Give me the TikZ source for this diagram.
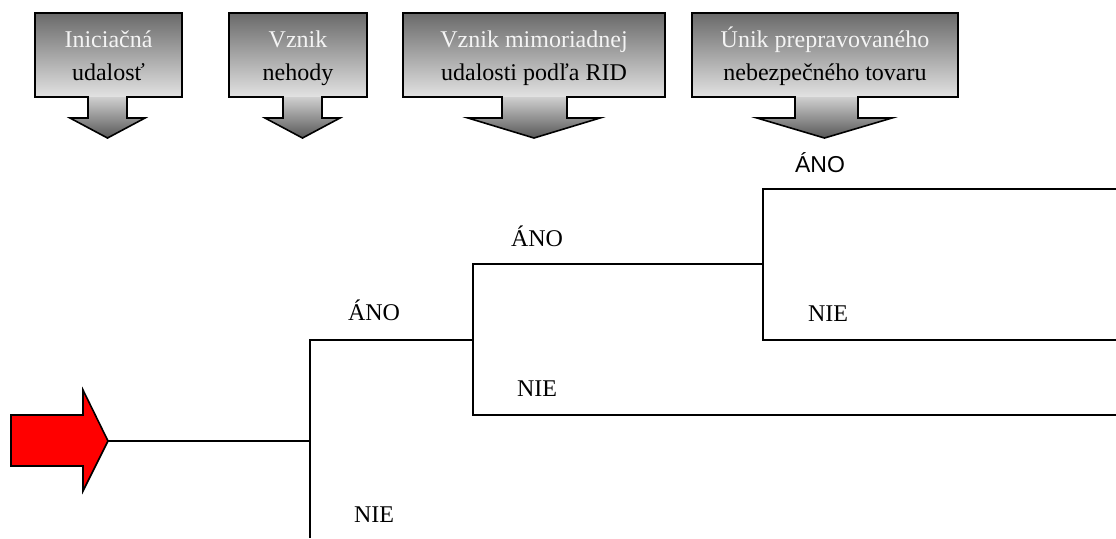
\documentclass[tikz,border=0pt]{standalone}
\usepackage{fontspec}
\setmainfont{Liberation Serif}
\newfontfamily\labelsans{Liberation Sans}

\definecolor{boxtop}{HTML}{6A6A6A}
\definecolor{boxbot}{HTML}{E2E2E2}
\definecolor{stemtop}{HTML}{CFCFCF}
\definecolor{tipcol}{HTML}{575757}
\definecolor{headlight}{HTML}{F4F4F4}

\tikzset{
  outline/.style={draw=black, line width=0.8pt, line join=miter},
  branch/.style={draw=black, line width=0.85pt},
  headtext/.style={anchor=base, inner sep=0pt, font=\fontsize{12}{14}\selectfont},
  answer/.style={anchor=base, inner sep=0pt, font=\fontsize{12}{14}\selectfont},
  answersans/.style={anchor=base, inner sep=0pt, font=\labelsans\fontsize{11.5}{13}\selectfont},
}

% #1 name, #2/#3 box left/right, #4/#5 stem left/right, #6/#7 head left/right,
% #8 first line, #9 second line
\newcommand\stagebox[9]{%
  \fill[top color=boxtop, bottom color=boxbot] (#2,13) rectangle (#3,97);
  \fill[top color=stemtop, bottom color=tipcol]
    (#4,97) -- (#5,97) -- (#5,118) -- (#7,118) -- ({(#6+#7)/2},138)
    -- (#6,118) -- (#4,118) -- cycle;
  \draw[outline] (#2,13) -- (#3,13) -- (#3,97) -- (#5,97) -- (#5,118)
    -- (#7,118) -- ({(#6+#7)/2},138) -- (#6,118) -- (#4,118) -- (#4,97)
    -- (#2,97) -- cycle;
  \node[headtext, text=headlight] (#1a) at ({(#2+#3)/2},47) {#8};
  \node[headtext] (#1b) at ({(#2+#3)/2},80) {#9};
}

\begin{document}
\begin{tikzpicture}[x=0.5pt, y=-0.5pt]
\useasboundingbox (0,0) rectangle (1116,538);

% column headers
\stagebox{init}{35}{182}{88}{127}{70}{145}{Iniciačná}{udalosť}
\stagebox{acc}{229}{367}{283}{322}{265}{340}{Vznik}{nehody}
\stagebox{rid}{403}{665}{502}{567}{468}{600}{Vznik mimoriadnej}{udalosti podľa RID}
\stagebox{leak}{692}{958}{795}{858}{757}{892}{Únik prepravovaného}{nebezpečného tovaru}

% red start arrow
\draw[outline, fill=red] (11,415) -- (83,415) -- (83,390) -- (108,441)
  -- (83,491) -- (83,466) -- (11,466) -- cycle;

% tree junctions
\coordinate (start) at (108,441);
\coordinate (j1) at (310,441);
\coordinate (j1up) at (310,340);
\coordinate (j1dn) at (310,538);
\coordinate (j2up) at (473,264);
\coordinate (j2) at (473,340);
\coordinate (j2dn) at (473,415);
\coordinate (j3up) at (763,189);
\coordinate (j3) at (763,264);
\coordinate (j3dn) at (763,340);
\coordinate (e1) at (1116,189);
\coordinate (e2) at (1116,340);
\coordinate (e3) at (1116,415);

\draw[branch] (start) -- (j1);
\draw[branch] (j1dn) -- (j1up) -- (j2);
\draw[branch] (e3) -- (j2dn) -- (j2up) -- (j3);
\draw[branch] (e1) -- (j3up) -- (j3dn) -- (e2);

% branch labels
\node[answer] (y1) at (374,320) {ÁNO};
\node[answer] (n1) at (374,522) {NIE};
\node[answer] (y2) at (537,246) {ÁNO};
\node[answer] (n2) at (537,396) {NIE};
\node[answer] (n3) at (828,321) {NIE};
\node[answersans] (y3) at (820,172) {ÁNO};
\end{tikzpicture}
\end{document}
